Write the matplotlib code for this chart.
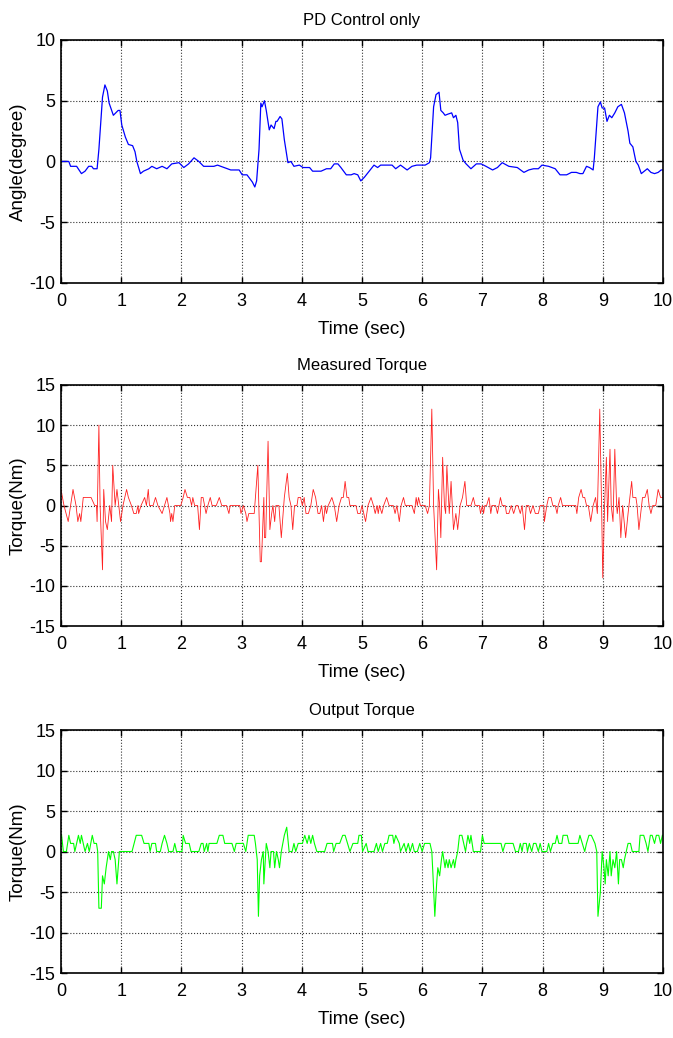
# coding: utf-8
# PD control only: angle, measured torque and output torque over 10 s

import matplotlib
matplotlib.use("Agg")
import matplotlib.pyplot as plt

# angle (degree)
angle_t = [0, 0.13, 0.16, 0.26, 0.34, 0.4, 0.46, 0.51, 0.54, 0.6,
           0.63, 0.69, 0.73, 0.77, 0.8, 0.87, 0.95, 0.98, 1.01, 1.07,
           1.12, 1.19, 1.23, 1.26, 1.32, 1.37, 1.46, 1.51, 1.59, 1.68,
           1.76, 1.84, 1.96, 2.04, 2.12, 2.21, 2.29, 2.37, 2.54, 2.6,
           2.71, 2.82, 2.96, 3.01, 3.09, 3.18, 3.22, 3.25, 3.29, 3.32,
           3.34, 3.38, 3.41, 3.46, 3.49, 3.54, 3.57, 3.59, 3.64, 3.67,
           3.71, 3.75, 3.77, 3.82, 3.87, 3.96, 4.02, 4.13, 4.18, 4.32,
           4.41, 4.48, 4.54, 4.6, 4.65, 4.74, 4.82, 4.87, 4.93, 4.98,
           5.04, 5.12, 5.2, 5.26, 5.31, 5.42, 5.5, 5.56, 5.64, 5.75,
           5.83, 5.91, 6.05, 6.12, 6.14, 6.19, 6.23, 6.28, 6.31, 6.35,
           6.38, 6.43, 6.49, 6.52, 6.56, 6.59, 6.62, 6.68, 6.73, 6.81,
           6.9, 6.98, 7.06, 7.17, 7.25, 7.33, 7.44, 7.58, 7.69, 7.77,
           7.85, 7.93, 7.99, 8.1, 8.21, 8.29, 8.4, 8.48, 8.56, 8.62,
           8.67, 8.73, 8.78, 8.84, 8.86, 8.92, 8.96, 8.99, 9.03, 9.07,
           9.11, 9.15, 9.2, 9.25, 9.31, 9.36, 9.42, 9.45, 9.5, 9.55,
           9.59, 9.64, 9.69, 9.74, 9.8, 9.86, 9.92, 9.97, 10.0]
angle_deg = [0, 0, -0.4, -0.4, -1.0, -0.8, -0.4, -0.4, -0.6, -0.6,
             1.0, 5.3, 6.3, 5.8, 4.8, 3.8, 4.2, 4.2, 3.0, 2.0,
             1.4, 1.3, 0.8, 0, -1.0, -0.8, -0.6, -0.4, -0.6, -0.4,
             -0.6, -0.2, -0.1, -0.5, -0.2, 0.3, 0, -0.4, -0.4, -0.3,
             -0.5, -0.7, -0.7, -1.1, -1.1, -1.7, -2.1, -1.6, 1.0, 4.8,
             4.5, 5.0, 4.2, 2.6, 3.0, 2.7, 3.3, 3.3, 3.7, 3.5,
             1.8, 0.5, -0.1, 0, -0.4, -0.3, -0.5, -0.5, -0.8, -0.8,
             -0.6, -0.6, -0.2, -0.2, -0.5, -1.1, -1.1, -1.0, -1.1, -1.6,
             -1.3, -0.8, -0.3, -0.5, -0.3, -0.3, -0.3, -0.6, -0.3, -0.7,
             -0.4, -0.3, -0.3, -0.1, 0.3, 4.5, 5.5, 5.7, 4.2, 4.0,
             3.8, 3.9, 4.0, 3.6, 3.8, 3.2, 1.0, 0.1, -0.2, -0.6,
             -0.2, -0.2, -0.4, -0.7, -0.5, -0.1, -0.4, -0.5, -0.9, -0.7,
             -0.6, -0.6, -0.3, -0.4, -0.6, -1.1, -1.1, -0.9, -0.9, -1.0,
             -1.0, -0.4, -0.5, -0.7, 0.3, 4.5, 4.9, 4.4, 4.4, 3.3,
             3.8, 3.6, 4.0, 4.5, 4.7, 4.0, 2.5, 1.5, 1.2, 0.0,
             -0.3, -1.0, -0.8, -0.6, -0.9, -1.0, -0.9, -0.7, -0.7]

# measured torque (Nm)
meas_t = [0.0, 0.05, 0.12, 0.2, 0.25, 0.28, 0.31, 0.33, 0.37, 0.42,
          0.5, 0.56, 0.59, 0.6, 0.63, 0.65, 0.69, 0.71, 0.74, 0.77,
          0.81, 0.84, 0.86, 0.9, 0.93, 0.96, 0.99, 1.03, 1.09, 1.12,
          1.17, 1.21, 1.25, 1.28, 1.29, 1.33, 1.39, 1.42, 1.45, 1.47,
          1.53, 1.57, 1.61, 1.68, 1.72, 1.76, 1.81, 1.82, 1.84, 1.86,
          1.89, 1.99, 2.03, 2.06, 2.1, 2.14, 2.17, 2.19, 2.22, 2.27,
          2.3, 2.33, 2.36, 2.41, 2.44, 2.48, 2.51, 2.58, 2.63, 2.67,
          2.75, 2.79, 2.81, 2.97, 2.99, 3.03, 3.07, 3.09, 3.12, 3.17,
          3.21, 3.27, 3.31, 3.33, 3.37, 3.38, 3.4, 3.44, 3.47, 3.5,
          3.52, 3.55, 3.57, 3.62, 3.66, 3.71, 3.76, 3.79, 3.82, 3.85,
          3.88, 3.92, 3.94, 3.98, 4.01, 4.04, 4.07, 4.11, 4.15, 4.19,
          4.23, 4.27, 4.3, 4.33, 4.36, 4.39, 4.41, 4.44, 4.5, 4.54,
          4.58, 4.62, 4.66, 4.69, 4.72, 4.75, 4.78, 4.8, 4.9, 4.93,
          4.97, 5.0, 5.03, 5.06, 5.1, 5.15, 5.19, 5.22, 5.25, 5.27,
          5.29, 5.33, 5.36, 5.41, 5.45, 5.52, 5.55, 5.58, 5.62, 5.65,
          5.69, 5.72, 5.83, 5.87, 5.9, 5.92, 5.94, 5.97, 6.05, 6.09,
          6.12, 6.16, 6.19, 6.24, 6.27, 6.29, 6.31, 6.34, 6.37, 6.39,
          6.41, 6.45, 6.48, 6.52, 6.56, 6.59, 6.63, 6.67, 6.71, 6.74,
          6.81, 6.85, 6.88, 6.95, 6.97, 7.0, 7.02, 7.04, 7.07, 7.11,
          7.14, 7.16, 7.22, 7.25, 7.3, 7.33, 7.38, 7.4, 7.44, 7.48,
          7.52, 7.56, 7.59, 7.63, 7.66, 7.7, 7.73, 7.77, 7.8, 7.84,
          7.88, 7.93, 7.96, 8.02, 8.03, 8.07, 8.1, 8.14, 8.17, 8.21,
          8.24, 8.26, 8.3, 8.33, 8.55, 8.57, 8.6, 8.64, 8.67, 8.7,
          8.73, 8.76, 8.8, 8.84, 8.88, 8.91, 8.95, 8.98, 9.0, 9.03,
          9.06, 9.08, 9.12, 9.14, 9.17, 9.2, 9.23, 9.24, 9.27, 9.3,
          9.33, 9.38, 9.42, 9.45, 9.48, 9.5, 9.55, 9.57, 9.6, 9.66,
          9.7, 9.74, 9.77, 9.8, 9.83, 9.88, 9.92, 9.96, 10.0]
meas_nm = [2, 0, -2, 2, 0, -2, -1, -2, 1, 1,
           1, 0, 0, -2, 10, 0, -8, 2, -2, -3,
           0, -2, 5, 0, 2, 0, -2, 0, 2, 1,
           0, -1, -1, 0, -1, 0, 1, 0, 2, 0,
           0, 1, 0, -1, 0, 1, -1, -2, -1, -2,
           0, 0, 1, 2, 1, 1, 0, 1, 0, 0,
           -3, 1, 1, -1, 0, 1, 0, 0, 1, 0,
           0, -1, 0, 0, -1, 0, -1, -2, -1, -1,
           -1, 5, -7, -7, 1, -4, -4, 8, -3, -1,
           0, -2, 0, 0, -4, 1, 4, 1, 0, -3,
           0, 0, 1, 1, 0, 1, -1, -1, 0, 2,
           1, -1, -1, 0, -2, 0, -1, 0, 1, 0,
           -2, 0, 1, 1, 3, 1, 1, 0, 0, -1,
           -1, 0, -1, -2, 0, 1, 0, -1, 0, -1,
           0, -1, 0, 1, 0, 0, -1, 0, -2, 0,
           1, 0, 0, -1, 1, 0, 1, 0, 0, -1,
           0, 12, 0, -8, 2, 0, -4, 6, 0, -1,
           5, -1, 3, -3, -1, -3, 0, 1, 3, 0,
           0, 1, 0, 0, -1, 0, -1, 0, 0, 1,
           -1, 0, 0, -1, 1, 0, 0, -1, -1, 0,
           -1, 0, 0, -1, 0, -3, 0, 0, -1, 0,
           -1, -1, 0, 0, -2, 0, 1, 1, 0, 0,
           -1, 0, 1, 0, 0, -1, 1, 2, 1, 1,
           0, 0, -2, 0, 1, -1, 12, 0, -9, 0,
           6, -2, 7, 0, -2, 7, 0, -1, 1, -4,
           0, -4, -1, 1, 3, 1, 1, 0, -3, 1,
           1, 2, 0, -1, 0, 0, 2, 1, 1]

# output torque (Nm)
out_t = [0.01, 0.04, 0.09, 0.13, 0.16, 0.21, 0.23, 0.29, 0.32, 0.34,
         0.37, 0.4, 0.44, 0.47, 0.52, 0.55, 0.59, 0.61, 0.63, 0.67,
         0.69, 0.72, 0.75, 0.79, 0.82, 0.84, 0.87, 0.9, 0.93, 0.97,
         1.18, 1.25, 1.34, 1.38, 1.46, 1.48, 1.51, 1.57, 1.59, 1.65,
         1.68, 1.72, 1.76, 1.79, 1.86, 1.89, 1.92, 2.01, 2.03, 2.07,
         2.13, 2.16, 2.29, 2.33, 2.36, 2.38, 2.42, 2.44, 2.46, 2.59,
         2.63, 2.69, 2.72, 2.84, 2.88, 2.91, 3.03, 3.07, 3.11, 3.21,
         3.23, 3.26, 3.28, 3.3, 3.33, 3.36, 3.37, 3.41, 3.44, 3.47,
         3.49, 3.53, 3.55, 3.58, 3.61, 3.63, 3.66, 3.71, 3.75, 3.79,
         3.84, 3.87, 3.9, 3.94, 4.01, 4.05, 4.09, 4.12, 4.15, 4.18,
         4.21, 4.25, 4.38, 4.42, 4.51, 4.53, 4.57, 4.63, 4.68, 4.72,
         4.76, 4.8, 4.85, 4.93, 4.95, 4.99, 5.01, 5.07, 5.1, 5.2,
         5.24, 5.27, 5.31, 5.34, 5.38, 5.42, 5.45, 5.51, 5.53, 5.56,
         5.62, 5.64, 5.7, 5.73, 5.77, 5.8, 5.84, 5.87, 5.92, 5.96,
         6.0, 6.04, 6.13, 6.16, 6.18, 6.21, 6.24, 6.26, 6.29, 6.32,
         6.34, 6.38, 6.4, 6.43, 6.45, 6.48, 6.52, 6.54, 6.56, 6.59,
         6.62, 6.66, 6.69, 6.72, 6.76, 6.79, 6.81, 6.85, 6.97, 7.0,
         7.03, 7.31, 7.34, 7.38, 7.51, 7.55, 7.6, 7.63, 7.66, 7.68,
         7.73, 7.75, 7.78, 7.82, 7.85, 7.89, 7.93, 7.96, 7.99, 8.07,
         8.1, 8.13, 8.17, 8.21, 8.24, 8.27, 8.32, 8.34, 8.41, 8.44,
         8.59, 8.62, 8.66, 8.7, 8.73, 8.77, 8.81, 8.87, 8.9, 8.92,
         8.96, 8.99, 9.02, 9.04, 9.06, 9.09, 9.12, 9.14, 9.17, 9.2,
         9.23, 9.26, 9.28, 9.31, 9.34, 9.36, 9.39, 9.42, 9.46, 9.49,
         9.6, 9.62, 9.68, 9.72, 9.75, 9.79, 9.82, 9.86, 9.89, 9.93,
         9.96, 9.99]
out_nm = [2, 0, 0, 2, 1, 1, 0, 2, 1, 2,
          1, 0, 1, 0, 2, 1, 1, 0, -7, -7,
          -3, -4, -2, 0, -1, 0, 0, -1, -4, 0,
          0, 2, 2, 1, 1, 0, 1, 1, 0, 0,
          1, 2, 1, 0, 0, 1, 0, 0, 2, 1,
          1, 0, 0, 1, 1, 0, 1, 0, 1, 1,
          2, 2, 1, 1, 0, 1, 1, 0, 2, 2,
          1, -1, -8, -3, -1, 0, -4, 1, 0, -2,
          0, 0, -2, 0, -1, -2, 0, 2, 3, 0,
          0, 1, 0, 1, 1, 2, 1, 2, 1, 2,
          1, 0, 0, 1, 1, 0, 1, 1, 2, 2,
          1, 0, 1, 1, 2, 2, 0, 1, 0, 0,
          1, 0, 1, 0, 1, 1, 2, 2, 1, 2,
          1, 0, 1, 0, 1, 0, 1, 0, 0, 1,
          0, 1, 1, 0, -3, -8, -4, -2, -3, -1,
          0, -2, -1, -2, -1, -2, -1, -2, -1, 0,
          2, 2, 1, 0, 2, 1, 2, 0, 0, 2,
          1, 1, 0, 1, 1, 0, 0, 1, 0, 1,
          1, 0, 1, 0, 1, 1, 0, 1, 0, 0,
          1, 0, 1, 1, 2, 1, 1, 2, 2, 1,
          1, 2, 1, 0, 1, 2, 2, 1, 0, -8,
          -5, 0, -2, -4, -1, -3, 0, -3, -1, -2,
          0, -4, -1, -1, -2, -1, 0, 1, 1, 0,
          0, 2, 2, 1, 0, 2, 2, 1, 2, 2,
          1, 2]

x_ticks = list(range(0, 11))
angle_ticks = [-10, -5, 0, 5, 10]
torque_ticks = [-15, -10, -5, 0, 5, 10, 15]

plt.rcParams['font.family'] = ['Liberation Sans', 'DejaVu Sans']
plt.rcParams['axes.unicode_minus'] = False

fig = plt.figure(figsize=(6.73, 10.38), dpi=100)

# axes boxes in figure fraction (left, bottom, width, height)
ax1 = fig.add_axes([0.0906, 0.7274, 0.8945, 0.2341])
ax2 = fig.add_axes([0.0906, 0.3969, 0.8945, 0.2322])
ax3 = fig.add_axes([0.0906, 0.0626, 0.8945, 0.2341])

ax1.plot(angle_t, angle_deg, color='#0000ff', lw=0.9)
ax2.plot(meas_t, meas_nm, color='#ff2020', lw=0.6)
ax3.plot(out_t, out_nm, color='#00ff00', lw=0.8)

setup = [
    (ax1, "PD Control only", "Angle(degree)", angle_ticks, (-10, 10)),
    (ax2, "Measured Torque", "Torque(Nm)", torque_ticks, (-15, 15)),
    (ax3, "Output Torque", "Torque(Nm)", torque_ticks, (-15, 15)),
]

for ax, title, ylab, yt, ylim in setup:
    ax.set_xlim(0, 10)
    ax.set_ylim(*ylim)
    ax.set_xticks(x_ticks)
    ax.set_yticks(yt)
    ax.tick_params(direction='in', length=4, width=1, top=True, right=True,
                   labelsize=13)
    ax.tick_params(axis='x', pad=7)
    ax.tick_params(axis='y', pad=4)
    ax.grid(True, linestyle=':', color='0.2', lw=0.8)
    for sp in ax.spines.values():
        sp.set_linewidth(1.2)
    ax.set_title(title, fontsize=12, pad=11)
    ax.set_xlabel("Time (sec)", fontsize=13.5, labelpad=8)
    ax.set_ylabel(ylab, fontsize=13.5, labelpad=2)

fig.savefig("out.png", dpi=100)
